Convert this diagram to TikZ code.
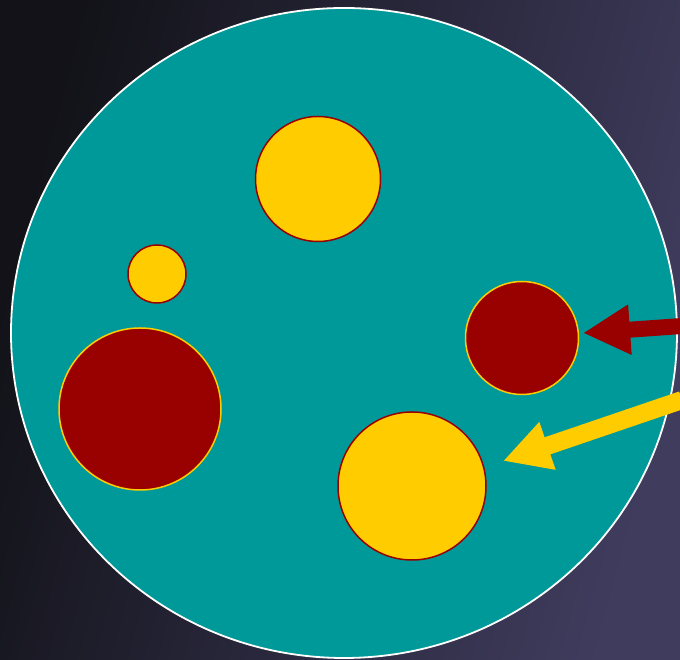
\documentclass[tikz,border=0pt]{standalone}
\usetikzlibrary{arrows.meta}
\definecolor{teal1}{HTML}{009999}
\definecolor{gold1}{HTML}{FFCC00}
\definecolor{red1}{HTML}{990000}
\definecolor{bgA}{HTML}{121218}
\definecolor{bgB}{HTML}{403C5E}
\begin{document}
\begin{tikzpicture}[x=1pt,y=1pt,
  yball/.style={circle,fill=gold1,draw=red1,line width=1.5pt,inner sep=0pt},
  rball/.style={circle,fill=red1,draw=gold1,line width=1.5pt,inner sep=0pt},
  pointer/.style={line width=#1,-{Triangle[length=47pt,width=47pt]}}]
\useasboundingbox (0,0) rectangle (680,660);
\shade[left color=bgA,right color=bgB,shading angle=75] (0,0) rectangle (680,660);
\fill[teal1] (344,327) ellipse [x radius=333,y radius=325];
\draw[white,line width=1.8pt] (344,327) ellipse [x radius=333,y radius=325];
\node[yball,minimum size=125pt] (y1) at (318,481) {};
\node[yball,minimum size=58pt] (y2) at (157,386) {};
\node[rball,minimum size=162pt] (r1) at (140,251) {};
\node[rball,minimum size=113pt] (r2) at (522,322) {};
\node[yball,minimum size=148pt] (y3) at (412,174) {};
\coordinate (rs) at (682,334);
\coordinate (rt) at (583,327);
\coordinate (ys) at (682,260);
\coordinate (yt) at (503,199);
\draw[pointer=16pt,red1] (rs) -- (rt);
\draw[pointer=18pt,gold1] (ys) -- (yt);
\end{tikzpicture}
\end{document}
